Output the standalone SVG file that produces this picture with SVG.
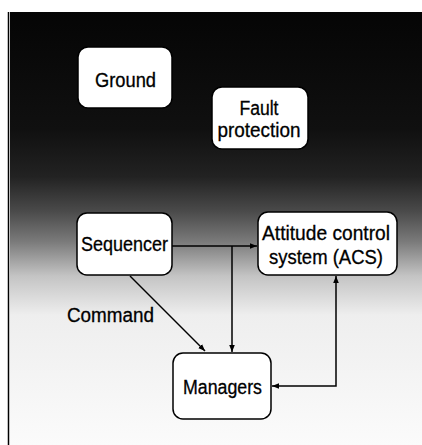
<svg xmlns="http://www.w3.org/2000/svg" width="422" height="445" viewBox="0 0 422 445">
  <defs>
    <linearGradient id="bg" gradientUnits="userSpaceOnUse" x1="0" y1="12" x2="0" y2="445">
      <stop offset="0" stop-color="#050505"/>
      <stop offset="0.27" stop-color="#101010"/>
      <stop offset="0.38" stop-color="#222"/>
      <stop offset="0.46" stop-color="#4a4a4a"/>
      <stop offset="0.53" stop-color="#7a7a7a"/>
      <stop offset="0.61" stop-color="#c4c4c4"/>
      <stop offset="0.70" stop-color="#eee"/>
      <stop offset="1" stop-color="#fbfbfb"/>
    </linearGradient>
    <marker id="arr" viewBox="0 0 10 10" refX="10" refY="5" markerWidth="7" markerHeight="7" orient="auto-start-reverse" markerUnits="userSpaceOnUse">
      <path d="M0,1 L10,5 L0,9 Z" fill="#000"/>
    </marker>
  </defs>
  <style>
    .box { fill: #fff; stroke: #000; stroke-width: 1.5; }
    .lbl { font-family: "Liberation Sans", Arial, sans-serif; font-size: 20px; fill: #000; stroke: #000; stroke-width: 0.3; text-anchor: middle; }
    .con { fill: none; stroke: #000; stroke-width: 1.5; }
  </style>
  <rect x="0" y="0" width="422" height="445" fill="#fff"/>
  <rect x="10" y="12" width="412" height="433" fill="url(#bg)"/>
  <line x1="8.5" y1="12" x2="8.5" y2="445" stroke="#000" stroke-width="1.5"/>

  <g id="connectors">
    <line class="con" x1="172" y1="246" x2="257" y2="246" marker-end="url(#arr)"/>
    <line class="con" x1="232" y1="246" x2="232" y2="352" marker-end="url(#arr)"/>
    <line class="con" x1="130" y1="276" x2="205" y2="351" marker-end="url(#arr)"/>
    <polyline class="con" points="272,386 336,386 336,276" marker-start="url(#arr)" marker-end="url(#arr)"/>
  </g>

  <g id="ground">
    <rect class="box" x="78" y="47" width="94" height="61" rx="10"/>
    <text class="lbl" x="125.5" y="87" textLength="61" lengthAdjust="spacingAndGlyphs">Ground</text>
  </g>
  <g id="fault-protection">
    <rect class="box" x="212" y="87" width="96" height="62" rx="10"/>
    <text class="lbl" x="259" y="115" textLength="39" lengthAdjust="spacingAndGlyphs">Fault</text>
    <text class="lbl" x="259" y="137" textLength="83" lengthAdjust="spacingAndGlyphs">protection</text>
  </g>
  <g id="sequencer">
    <rect class="box" x="77" y="213" width="95" height="62" rx="10"/>
    <text class="lbl" x="124.5" y="251" textLength="87" lengthAdjust="spacingAndGlyphs">Sequencer</text>
  </g>
  <g id="acs">
    <rect class="box" x="258" y="212" width="139" height="63" rx="10"/>
    <text class="lbl" x="326" y="240" textLength="128" lengthAdjust="spacingAndGlyphs">Attitude control</text>
    <text class="lbl" x="326" y="264" textLength="114" lengthAdjust="spacingAndGlyphs">system (ACS)</text>
  </g>
  <g id="managers">
    <rect class="box" x="173" y="353" width="98" height="66" rx="10"/>
    <text class="lbl" x="222.5" y="394" textLength="79" lengthAdjust="spacingAndGlyphs">Managers</text>
  </g>
  <g id="command-label">
    <text class="lbl" x="110.5" y="322" textLength="87" lengthAdjust="spacingAndGlyphs">Command</text>
  </g>
</svg>
